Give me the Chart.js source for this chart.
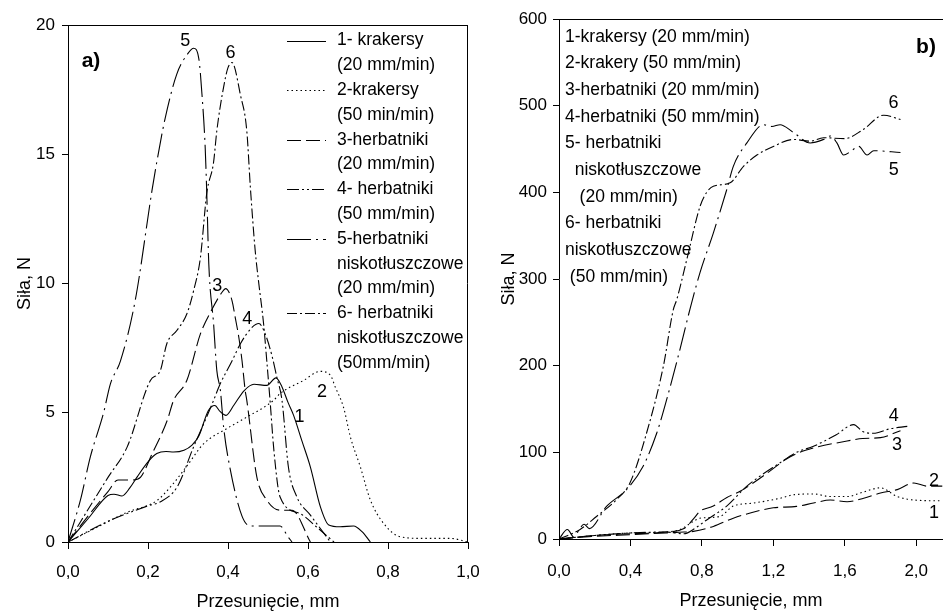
<!DOCTYPE html>
<html>
<head>
<meta charset="utf-8">
<script src="https://cdn.jsdelivr.net/npm/chart.js@4.4.1/dist/chart.umd.min.js"></script>
<style>
  body { margin: 0; background: #fff; }
  #wrapA { position: absolute; left: 0; top: 0; }
  #wrapB { position: absolute; left: 480px; top: 0; }
</style>
</head>
<body>
<div id="wrapA"><canvas id="chartA" width="480" height="614"></canvas></div>
<div id="wrapB"><canvas id="chartB" width="463" height="614"></canvas></div>
<script>
// panel a) - Przesunięcie 0..1 mm, Siła 0..20 N
const aTicksX = [0, 0.2, 0.4, 0.6, 0.8, 1.0];
const aTicksY = [0, 5, 10, 15, 20];

const a1X = [0, 0.05, 0.1, 0.115, 0.135, 0.155, 0.173, 0.2, 0.222, 0.245, 0.264, 0.29, 0.31, 0.327, 0.351, 0.367, 0.38, 0.395, 0.415, 0.44, 0.465, 0.497, 0.52, 0.535, 0.55, 0.564, 0.585, 0.606, 0.631, 0.652, 0.68, 0.714, 0.735, 0.756];
const a1Y = [0, 0.9, 1.8, 1.85, 1.78, 2.1, 2.52, 3.1, 3.42, 3.5, 3.48, 3.55, 3.75, 4.1, 5.09, 5.28, 5.05, 4.9, 5.3, 5.85, 6.1, 6.06, 6.35, 6.0, 5.4, 4.9, 3.9, 2.9, 1.36, 0.66, 0.59, 0.62, 0.4, 0];

const a2X = [0, 0.064, 0.148, 0.222, 0.26, 0.3, 0.339, 0.397, 0.447, 0.514, 0.53, 0.589, 0.63, 0.656, 0.668, 0.689, 0.706, 0.731, 0.756, 0.789, 0.831, 0.889, 0.956, 1.0];
const a2Y = [0, 0.5, 1.15, 1.6, 2.2, 3.0, 3.8, 4.39, 4.83, 5.48, 5.74, 6.25, 6.6, 6.45, 6.0, 5.2, 4.06, 2.9, 1.62, 0.72, 0.2, 0.14, 0.14, 0.0];

const a3X = [0, 0.05, 0.1, 0.125, 0.163, 0.181, 0.21, 0.248, 0.264, 0.297, 0.331, 0.36, 0.385, 0.394, 0.41, 0.418, 0.427, 0.435, 0.443, 0.447, 0.472, 0.497, 0.53, 0.56, 0.606];
const a3Y = [0, 1.0, 1.95, 2.4, 2.4, 2.5, 3.4, 4.7, 5.48, 6.25, 8.05, 9.0, 9.66, 9.8, 9.34, 8.69, 7.92, 7.02, 5.86, 5.48, 2.52, 1.62, 1.23, 1.23, 0];

const a4X = [0, 0.1, 0.2, 0.23, 0.273, 0.314, 0.34, 0.364, 0.38, 0.41, 0.431, 0.46, 0.477, 0.493, 0.51, 0.522, 0.535, 0.551, 0.572, 0.606, 0.656];
const a4Y = [0, 0.8, 1.4, 1.55, 2.13, 3.68, 4.6, 5.48, 6.1, 7.0, 7.67, 8.3, 8.45, 8.05, 7.2, 6.38, 5.48, 2.9, 1.75, 1.04, 0];

const a5X = [0, 0.031, 0.056, 0.089, 0.106, 0.131, 0.168, 0.21, 0.222, 0.243, 0.272, 0.3, 0.314, 0.327, 0.335, 0.343, 0.347, 0.352, 0.364, 0.372, 0.381, 0.389, 0.406, 0.435, 0.456, 0.53, 0.55, 0.56];
const a5Y = [0, 1.62, 3.3, 5.0, 6.12, 7.0, 9.34, 13.6, 14.7, 16.4, 18.1, 18.9, 19.1, 18.7, 17.3, 15.25, 13.45, 10.75, 8.44, 6.64, 5.86, 4.45, 2.78, 1.0, 0.62, 0.62, 0.2, 0];

const a6X = [0, 0.1, 0.148, 0.206, 0.231, 0.247, 0.272, 0.297, 0.314, 0.331, 0.347, 0.364, 0.372, 0.389, 0.4, 0.41, 0.431, 0.447, 0.456, 0.468, 0.477, 0.489, 0.497, 0.505, 0.515, 0.53, 0.58, 0.62, 0.665];
const a6Y = [0, 2.5, 3.68, 6.25, 6.64, 7.67, 8.18, 8.82, 9.72, 11.0, 13.5, 14.7, 15.9, 17.6, 18.35, 18.55, 17.3, 15.9, 13.7, 11.27, 10.0, 8.44, 7.0, 5.5, 3.5, 1.75, 1.1, 0.6, 0];

// panel b) - Przesunięcie 0..2,15 mm, Siła 0..600 N
const bTicksX = [0, 0.4, 0.8, 1.2, 1.6, 2.0];
const bTicksY = [0, 100, 200, 300, 400, 500, 600];

const b1X = [0, 0.2, 0.4, 0.6, 0.677, 0.75, 0.789, 0.9, 0.976, 1.09, 1.238, 1.313, 1.425, 1.519, 1.613, 1.7, 1.8, 1.894, 1.987, 2.146];
const b1Y = [0, 4, 7, 8, 11, 20, 24, 26, 38, 41.5, 47, 51, 52, 49, 49, 54, 59, 49, 45, 44];

const b2X = [0, 0.2, 0.4, 0.6, 0.7, 0.752, 0.864, 0.976, 1.107, 1.2, 1.33, 1.425, 1.519, 1.613, 1.706, 1.8, 1.894, 1.987, 2.06, 2.146];
const b2Y = [0, 3, 5, 7, 8, 8.8, 14.5, 24, 32, 36, 37.6, 41.5, 45, 43, 47, 53, 57, 64.6, 61, 61];

const b3X = [0, 0.2, 0.4, 0.6, 0.7, 0.76, 0.789, 0.864, 0.94, 1.014, 1.145, 1.295, 1.425, 1.613, 1.7, 1.8, 1.912];
const b3Y = [0, 4, 6, 8, 12, 25, 32, 38, 48, 55, 73, 95, 105, 113, 116, 117, 125];

const b4X = [0, 0.2, 0.4, 0.6, 0.7, 0.752, 0.827, 0.939, 1.052, 1.238, 1.33, 1.425, 1.55, 1.65, 1.7, 1.76, 1.85, 1.95];
const b4Y = [0, 4, 7, 8, 6, 11, 22, 38, 61, 88, 100, 107, 120, 132, 124, 122, 127, 130];

const b5X = [0, 0.047, 0.084, 0.116, 0.14, 0.17, 0.266, 0.378, 0.471, 0.547, 0.603, 0.677, 0.733, 0.789, 0.864, 0.939, 0.976, 1.052, 1.145, 1.192, 1.238, 1.313, 1.407, 1.481, 1.519, 1.556, 1.594, 1.632, 1.678, 1.725, 1.762, 1.912];
const b5Y = [0, 11, 2, 12, 17, 12, 37.6, 57, 84, 122, 161, 218.6, 265, 307, 353, 403, 430, 457, 478, 476, 478, 469, 457, 461, 465, 457, 443, 447, 453, 443, 448, 446];

const b6X = [0, 0.116, 0.21, 0.322, 0.397, 0.49, 0.584, 0.64, 0.659, 0.715, 0.79, 0.827, 0.864, 0.958, 1.033, 1.108, 1.2, 1.313, 1.407, 1.481, 1.6, 1.7, 1.818, 1.912];
const b6Y = [0, 10.7, 26, 45.4, 64.6, 122, 199, 264.6, 276, 322, 384, 400, 407, 411, 430, 443, 453, 461, 459, 463, 462, 472, 489, 484];

// curve numbers written next to the lines (data coordinates)
const aCurveLabels = [['5', 0.293, 19.37], ['6', 0.406, 18.9], ['3', 0.373, 9.9], ['4', 0.448, 8.63], ['2', 0.635, 5.8], ['1', 0.579, 4.83]];
const bCurveLabels = [['6', 1.873, 503], ['5', 1.874, 426], ['4', 1.874, 141.5], ['3', 1.893, 108.8], ['2', 2.099, 66.5], ['1', 2.099, 30]];

const aLegendText = ['1- krakersy', '(20 mm/min)', '2-krakersy', '(50 min/min)', '3-herbatniki', '(20 mm/min)', '4- herbatniki', '(50 mm/min)', '5-herbatniki', 'niskotłuszczowe', '(20 mm/min)', '6- herbatniki', 'niskotłuszczowe', '(50mm/min)'];
const bLegendText = ['1-krakersy (20 mm/min)', '2-krakery (50 mm/min)', '3-herbatniki (20 mm/min)', '4-herbatniki (50 mm/min)', '5- herbatniki', '  niskotłuszczowe', '   (20 mm/min)', '6- herbatniki', 'niskotłuszczowe', ' (50 mm/min)'];

const FONT = "'Liberation Sans', Arial, sans-serif";
Chart.defaults.font.family = FONT;
Chart.defaults.color = '#000';

const dashes = {
  1: [],
  2: [1.5, 3],
  3: [14, 5],
  4: [12, 3, 2, 3, 2, 3],
  5: [24, 5, 2, 5],
  6: [10, 3, 2, 3]
};

function pts(xs, ys) {
  return xs.map((x, i) => ({ x: x, y: ys[i] }));
}

function ds(xs, ys, n) {
  return {
    data: pts(xs, ys),
    borderColor: '#000',
    borderWidth: 1.1,
    borderDash: dashes[n],
    pointRadius: 0,
    cubicInterpolationMode: 'monotone',
    fill: false
  };
}

function fmtComma(v) {
  return v.toFixed(1).replace('.', ',');
}

function decor(opt) {
  return {
    id: 'decor',
    afterDraw(chart) {
      const ctx = chart.ctx;
      const area = chart.chartArea;
      const xs = chart.scales.x, ys = chart.scales.y;
      ctx.save();
      ctx.strokeStyle = '#000';
      ctx.lineWidth = 1;
      ctx.setLineDash([]);
      ctx.beginPath();
      ctx.moveTo(area.left, Math.round(area.top) + 0.5);
      ctx.lineTo(area.right, Math.round(area.top) + 0.5);
      if (opt.rightBorder) {
        ctx.moveTo(Math.round(area.right) - 0.5, area.top);
        ctx.lineTo(Math.round(area.right) - 0.5, area.bottom);
      }
      ctx.stroke();

      // panel letter
      ctx.fillStyle = '#000';
      ctx.font = 'bold 21px ' + FONT;
      ctx.textAlign = 'center';
      ctx.textBaseline = 'middle';
      ctx.fillText(opt.letter[0], opt.letter[1], opt.letter[2]);

      // numbers next to curves
      ctx.font = '18px ' + FONT;
      opt.curveLabels.forEach(l => {
        ctx.fillText(l[0], xs.getPixelForValue(l[1]), ys.getPixelForValue(l[2]));
      });

      // legend text
      ctx.font = '17.5px ' + FONT;
      ctx.textAlign = 'left';
      opt.legend.forEach((t, i) => {
        ctx.fillText(t, opt.legendX, opt.legendY0 + i * opt.legendStep);
      });

      // legend line samples
      if (opt.samples) {
        opt.samples.forEach(s => {
          const y = Math.round(opt.legendY0 + s[1] * opt.legendStep) + 0.5;
          ctx.setLineDash(dashes[s[0]]);
          ctx.lineWidth = 1.1;
          ctx.beginPath();
          ctx.moveTo(opt.sampleX0, y);
          ctx.lineTo(opt.sampleX1, y);
          ctx.stroke();
        });
      }
      ctx.restore();
    }
  };
}

function makeChart(id, sets, sc, opt) {
  return new Chart(document.getElementById(id), {
    type: 'line',
    data: { datasets: sets },
    options: {
      responsive: false,
      animation: false,
      layout: { padding: sc.padding },
      plugins: { legend: { display: false }, tooltip: { enabled: false } },
      scales: {
        x: {
          type: 'linear',
          min: sc.xMin, max: sc.xMax,
          afterBuildTicks: s => { s.ticks = sc.xTicks.map(v => ({ value: v })); },
          afterFit: s => { s.height = sc.xHeight; s.paddingLeft = 0; s.paddingRight = 0; },
          ticks: { callback: v => fmtComma(v), font: { size: sc.tickSize }, padding: sc.xTickPad, maxRotation: 0 },
          grid: { drawOnChartArea: false, drawTicks: true, tickLength: 7, color: '#000' },
          border: { display: true, color: '#000', width: 1 },
          title: { display: true, text: 'Przesunięcie, mm', font: { size: 18 }, padding: sc.xTitlePad }
        },
        y: {
          type: 'linear',
          min: sc.yMin, max: sc.yMax,
          afterBuildTicks: s => { s.ticks = sc.yTicks.map(v => ({ value: v })); },
          afterFit: s => { s.width = sc.yWidth; s.paddingTop = 0; s.paddingBottom = 0; },
          ticks: { callback: v => String(v), font: { size: sc.tickSize }, padding: sc.yTickPad },
          grid: { drawOnChartArea: false, drawTicks: true, tickLength: 6, color: '#000' },
          border: { display: true, color: '#000', width: 1 },
          title: { display: true, text: 'Siła, N', font: { size: 18 }, padding: sc.yTitlePad }
        }
      }
    },
    plugins: [decor(opt)]
  });
}

makeChart('chartA',
  [ds(a1X, a1Y, 1), ds(a2X, a2Y, 2), ds(a3X, a3Y, 3), ds(a4X, a4Y, 4), ds(a5X, a5Y, 5), ds(a6X, a6Y, 6)],
  { padding: { left: 0, right: 12, top: 25, bottom: 0 }, xMin: 0, xMax: 1, yMin: 0, yMax: 20,
    xTicks: aTicksX, yTicks: aTicksY, xHeight: 72, yWidth: 68, tickSize: 17,
    xTickPad: 13, yTickPad: 7, xTitlePad: 1, yTitlePad: 14 },
  { rightBorder: true, letter: ['a)', 91, 61], curveLabels: aCurveLabels,
    legend: aLegendText, legendX: 337, legendY0: 40.5, legendStep: 24.8,
    samples: [[1, 0], [2, 2], [3, 4], [4, 6], [5, 8], [6, 11]], sampleX0: 287, sampleX1: 326 });

makeChart('chartB',
  [ds(b1X, b1Y, 2), ds(b2X, b2Y, 3), ds(b3X, b3Y, 3), ds(b4X, b4Y, 4), ds(b5X, b5Y, 5), ds(b6X, b6Y, 6)],
  { padding: { left: 0, right: 0, top: 19, bottom: 0 }, xMin: 0, xMax: 2.15, yMin: 0, yMax: 600,
    xTicks: bTicksX, yTicks: bTicksY, xHeight: 75, yWidth: 79, tickSize: 17,
    xTickPad: 15, yTickPad: 6, xTitlePad: 2, yTitlePad: 18 },
  { rightBorder: false, letter: ['b)', 446, 47], curveLabels: bCurveLabels,
    legend: bLegendText, legendX: 85, legendY0: 36.7, legendStep: 26.67 });
</script>
</body>
</html>
